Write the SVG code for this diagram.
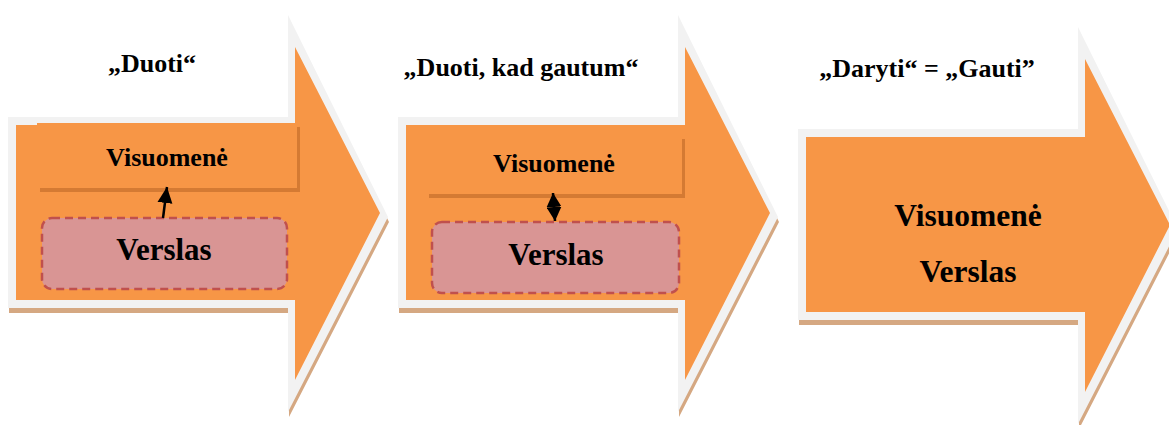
<svg xmlns="http://www.w3.org/2000/svg" width="1169" height="425" viewBox="0 0 1169 425">
<style>
.shadow{fill:#D5A882}
.border{fill:#F2F2F2}
.body{fill:#F79646}
.vshadow{fill:#D47A33}
.vbox{fill:#F79646}
.pink{fill:#D99594;stroke:#C0504D;stroke-width:2.5;stroke-dasharray:8 5}
text{font-family:"Liberation Serif","Times New Roman",serif;font-weight:bold;fill:#000;text-anchor:middle}
.t{font-size:26px}
.s{font-size:26px}
.b{font-size:31px}
.c{font-size:31.5px}
.conn{stroke:#000;stroke-width:2.5;fill:none}
</style>
<defs>
<g id="arrowShape">
<polygon class="shadow" points="9,122 289,122 289,20 389,222 289,417 289,313 9,313"/>
<polygon class="border" points="8,117 288,117 288,15 388,217 288,412 288,308 8,308"/>
<polygon class="body" points="16,125 295,125 295,47 380,213 295,380 295,300 16,300"/>
</g>
<marker id="ah" markerUnits="userSpaceOnUse" markerWidth="16" markerHeight="16" refX="16" refY="7.5" orient="auto-start-reverse" viewBox="0 0 16 15">
<path d="M0,0 L16,7.5 L0,15 z" fill="#000"/>
</marker>
<marker id="dh" markerUnits="userSpaceOnUse" markerWidth="14" markerHeight="15" refX="14" refY="7.5" orient="auto-start-reverse" viewBox="0 0 14 15">
<path d="M0,0 L14,7.5 L0,15 z" fill="#000"/>
</marker>
</defs>

<g id="stage1">
<use href="#arrowShape"/>
<text class="t" x="152" y="72">„Duoti“</text>
<g id="visuomene1">
<rect class="vshadow" x="40" y="127" width="260" height="65"/>
<rect class="vbox" x="37" y="123" width="260" height="65"/>
<text class="s" x="167" y="166">Visuomenė</text>
</g>
<g id="verslas1">
<rect class="pink" x="42" y="218" width="245" height="71" rx="10"/>
<text class="b" x="164" y="260">Verslas</text>
</g>
</g>

<g id="stage2">
<use href="#arrowShape" x="390"/>
<text class="t" x="521" y="76">„Duoti, kad gautum“</text>
<g id="visuomene2">
<rect class="vshadow" x="429" y="139" width="256" height="59"/>
<rect class="vbox" x="426" y="135" width="256" height="59"/>
<text class="s" x="554" y="172">Visuomenė</text>
</g>
<g id="verslas2">
<rect class="pink" x="432" y="222" width="247" height="71" rx="10"/>
<text class="b" x="556" y="265">Verslas</text>
</g>
</g>

<g id="stage3">
<use href="#arrowShape" x="790" y="12"/>
<text class="t" x="927" y="77">„Daryti“ = „Gauti”</text>
<text class="c" x="968" y="226">Visuomenė</text>
<text class="c" x="968" y="282">Verslas</text>
</g>

<g id="connectors">
<line class="conn" x1="163" y1="218" x2="167" y2="187" marker-end="url(#ah)"/>
<line class="conn" x1="555" y1="221" x2="553" y2="193" marker-start="url(#dh)" marker-end="url(#dh)"/>
</g>
</svg>
